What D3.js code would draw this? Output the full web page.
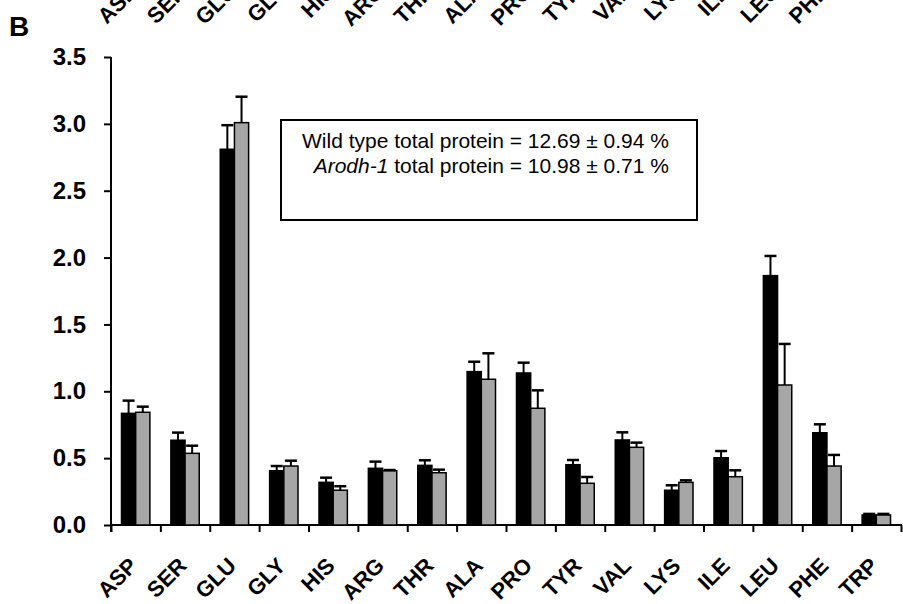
<!DOCTYPE html>
<html lang="en">

<head>
    <meta charset="UTF-8">
    <title>Amino acid composition</title>
    <style>
        body {
            margin: 0;
            background: #fff;
        }

        svg {
            font-family: Arial, "Liberation Sans", sans-serif;
            display: block;
        }

        .axis path,
        .axis line {
            stroke: #000;
            stroke-width: 2px;
        }
    </style>
</head>

<body>

    <div id="chart"></div>

    <script src="https://d3js.org/d3.v7.min.js"></script>
    <script>

        // amino acids on the x axis
        var categories = ["ASP", "SER", "GLU", "GLY", "HIS", "ARG", "THR", "ALA", "PRO", "TYR", "VAL", "LYS", "ILE", "LEU", "PHE", "TRP"];

        // wild type (black bars) and Arodh-1 (grey bars), values and error bars
        var wildType = [0.835, 0.634, 2.81, 0.406, 0.319, 0.424, 0.446, 1.147, 1.137, 0.451, 0.636, 0.26, 0.503, 1.865, 0.69, 0.075];
        var wildTypeErr = [0.095, 0.057, 0.18, 0.035, 0.035, 0.05, 0.038, 0.074, 0.077, 0.035, 0.057, 0.037, 0.05, 0.147, 0.063, 0.008];
        var arodh = [0.843, 0.536, 3.009, 0.441, 0.26, 0.406, 0.391, 1.09, 0.873, 0.312, 0.581, 0.319, 0.361, 1.047, 0.441, 0.075];
        var arodhErr = [0.042, 0.057, 0.194, 0.04, 0.03, 0.005, 0.023, 0.194, 0.134, 0.047, 0.035, 0.015, 0.048, 0.307, 0.083, 0.008];

        var yTicks = [0, 0.5, 1.0, 1.5, 2.0, 2.5, 3.0, 3.5];
        var panelLabel = "B";

        // labels of the panel above, cut by the top edge of the picture
        var topPanelCategories = categories.slice(0, 15);

        var width = 903, height = 604;

        var svg = d3.select("#chart").append("svg")
            .attr("width", width)
            .attr("height", height);

        var x = d3.scaleBand()
            .domain(categories)
            .range([111, 901])
            .paddingInner(0)
            .paddingOuter(0);

        var xSub = d3.scaleBand()
            .domain(["wt", "mut"])
            .range([0, x.bandwidth()])
            .paddingInner(0)
            .paddingOuter(0.74);

        var y = d3.scaleLinear()
            .domain([0, 3.5])
            .range([525, 57]);

        // boundaries between categories get the x axis ticks
        var xEdge = d3.scaleLinear()
            .domain([0, categories.length])
            .range(x.range());

        var rows = categories.map(function (c, i) {
            return [
                { cat: c, key: "wt", value: wildType[i], err: wildTypeErr[i] },
                { cat: c, key: "mut", value: arodh[i], err: arodhErr[i] }
            ];
        });
        var bars = d3.merge(rows);

        // y axis
        var yAxis = svg.append("g")
            .attr("class", "axis")
            .attr("transform", "translate(" + x.range()[0] + ",0)")
            .call(d3.axisLeft(y).tickValues(yTicks).tickSize(7).tickSizeOuter(0).tickPadding(18)
                .tickFormat(d3.format(".1f")));
        yAxis.select(".domain").attr("d", "M0," + (y(0) + 7) + "V" + y(3.5));
        yAxis.selectAll("text")
            .attr("fill", "#000")
            .style("font-size", "24px")
            .style("font-weight", "bold")
            .style("font-family", "Arial, 'Liberation Sans', sans-serif");

        // x axis
        var xAxis = svg.append("g")
            .attr("class", "axis")
            .attr("transform", "translate(0," + y(0) + ")")
            .call(d3.axisBottom(xEdge).ticks(categories.length).tickSize(7).tickSizeOuter(0).tickFormat(""));
        xAxis.select(".domain").attr("d", "M" + xEdge.range()[0] + ",0H902");

        // bars
        svg.append("g")
            .selectAll("rect")
            .data(bars)
            .enter().append("rect")
            .attr("x", function (d) { return x(d.cat) + xSub(d.key); })
            .attr("y", function (d) { return y(d.value); })
            .attr("width", xSub.bandwidth())
            .attr("height", function (d) { return y(0) - y(d.value); })
            .attr("fill", function (d) { return d.key === "wt" ? "#000" : "#a6a6a6"; })
            .attr("stroke", "#000")
            .attr("stroke-width", 1.5);

        // error bars (upper half only)
        var err = svg.append("g")
            .selectAll("g")
            .data(bars)
            .enter().append("g")
            .attr("transform", function (d) {
                return "translate(" + (x(d.cat) + xSub(d.key) + xSub.bandwidth() / 2) + ",0)";
            });

        err.append("line")
            .attr("x1", 0).attr("x2", 0)
            .attr("y1", function (d) { return y(d.value); })
            .attr("y2", function (d) { return y(d.value + d.err); })
            .attr("stroke", "#000")
            .attr("stroke-width", 2);

        err.append("line")
            .attr("x1", -6).attr("x2", 6)
            .attr("y1", function (d) { return y(d.value + d.err); })
            .attr("y2", function (d) { return y(d.value + d.err); })
            .attr("stroke", "#000")
            .attr("stroke-width", 2.5);

        // rotated category labels
        svg.append("g")
            .selectAll("text")
            .data(categories)
            .enter().append("text")
            .attr("transform", function (d) {
                return "translate(" + (x(d) + x.bandwidth() / 2 + 3) + ",567) rotate(-45)";
            })
            .attr("text-anchor", "end")
            .style("font-size", "22px")
            .style("font-weight", "bold")
            .text(function (d) { return d; });

        svg.append("g")
            .selectAll("text")
            .data(topPanelCategories)
            .enter().append("text")
            .attr("transform", function (d) {
                return "translate(" + (x(d) + x.bandwidth() / 2 + 3) + ",-7) rotate(-45)";
            })
            .attr("text-anchor", "end")
            .style("font-size", "22px")
            .style("font-weight", "bold")
            .text(function (d) { return d; });

        // panel letter
        svg.append("text")
            .attr("x", 9)
            .attr("y", 36)
            .style("font-size", "28px")
            .style("font-weight", "bold")
            .text(panelLabel);

        // info box
        var box = svg.append("g");
        box.append("rect")
            .attr("x", 281)
            .attr("y", 120)
            .attr("width", 416)
            .attr("height", 100)
            .attr("fill", "#fff")
            .attr("stroke", "#000")
            .attr("stroke-width", 2);

        var line1 = box.append("text")
            .attr("x", 669)
            .attr("y", 148)
            .attr("text-anchor", "end")
            .style("font-size", "21px");
        line1.append("tspan").text("Wild type total protein = 12.69 \u00b1 0.94 %");

        var line2 = box.append("text")
            .attr("x", 669)
            .attr("y", 173)
            .attr("text-anchor", "end")
            .style("font-size", "21px");
        line2.append("tspan").style("font-style", "italic").text("Arodh-1");
        line2.append("tspan").text(" total protein = 10.98 \u00b1 0.71 %");

    </script>

</body>

</html>
